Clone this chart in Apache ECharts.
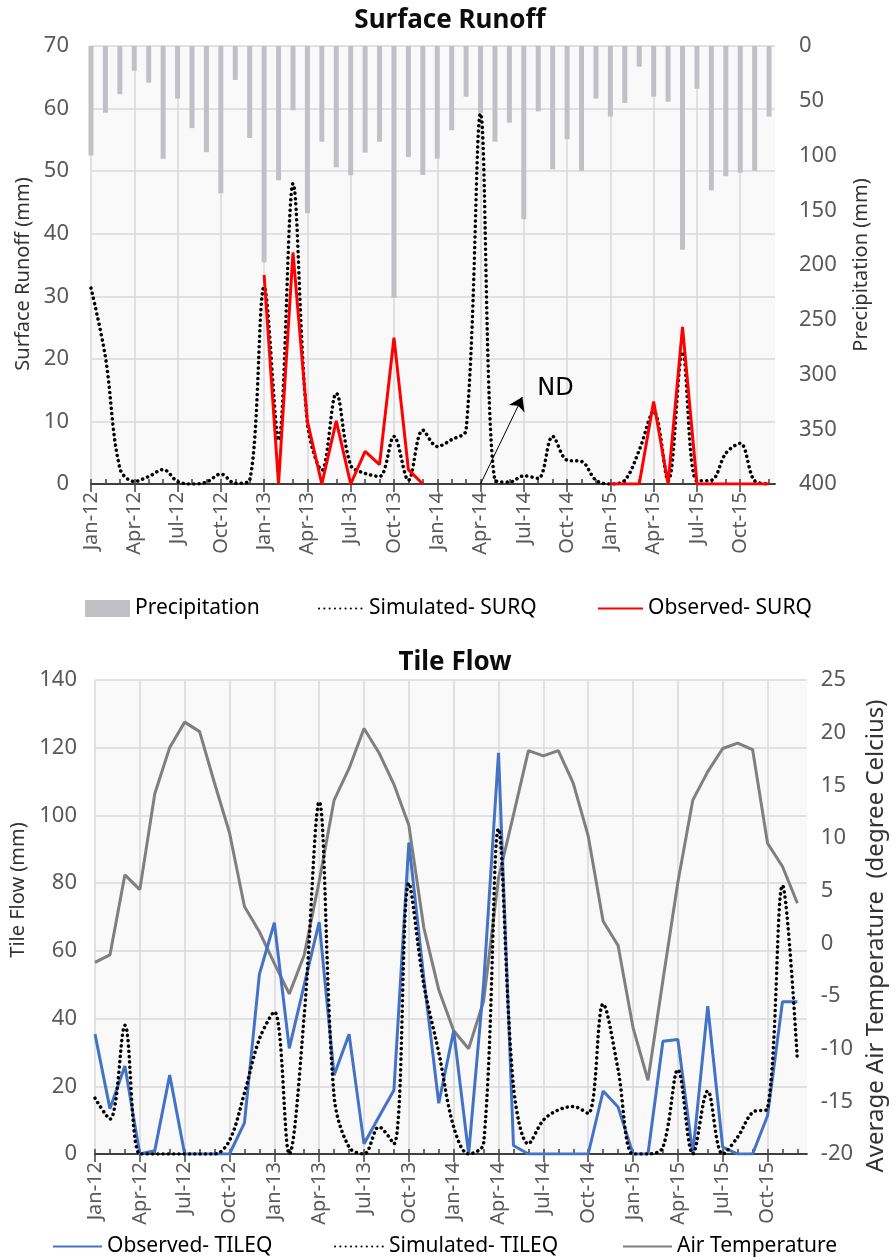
<!DOCTYPE html>
<html>
<head>
<meta charset="utf-8">
<title>Surface Runoff / Tile Flow</title>
<script src="https://cdn.jsdelivr.net/npm/echarts@6.0.0/dist/echarts.min.js"></script>
<style>
  html, body { margin: 0; padding: 0; background: #fff; }
  #chart { width: 896px; height: 1260px; }
</style>
</head>
<body>
<div id="chart"></div>
<script>
const MONTHS = [
  'Jan-12', 'Feb-12', 'Mar-12', 'Apr-12', 'May-12', 'Jun-12', 'Jul-12', 'Aug-12', 'Sep-12', 'Oct-12', 'Nov-12', 'Dec-12',
  'Jan-13', 'Feb-13', 'Mar-13', 'Apr-13', 'May-13', 'Jun-13', 'Jul-13', 'Aug-13', 'Sep-13', 'Oct-13', 'Nov-13', 'Dec-13',
  'Jan-14', 'Feb-14', 'Mar-14', 'Apr-14', 'May-14', 'Jun-14', 'Jul-14', 'Aug-14', 'Sep-14', 'Oct-14', 'Nov-14', 'Dec-14',
  'Jan-15', 'Feb-15', 'Mar-15', 'Apr-15', 'May-15', 'Jun-15', 'Jul-15', 'Aug-15', 'Sep-15', 'Oct-15', 'Nov-15', 'Dec-15'
];
// labelled months (every third one)
const LABEL_MONTHS = [0, 3, 6, 9, 12, 15, 18, 21, 24, 27, 30, 33, 36, 39, 42, 45];
const ALL_MONTHS = MONTHS.map((_, i) => i);

// Surface runoff panel
const PRECIP = [
  100, 61, 44, 22.5, 33.5, 103, 48, 75, 97, 134.5, 31, 84,
  197.6, 122.7, 58.7, 152.8, 87.4, 110.8, 118, 97.4, 87.4, 230, 101.4, 117.8,
  102.9, 77, 46.3, 61, 87.4, 70, 158.3, 59.7, 112.6, 85, 114, 48,
  64.5, 52, 18.9, 46.3, 51, 186, 39, 131.8, 119, 115.7, 114, 64.5
];
const SIM_SURQ = [
  31.3, 20.3, 2.5, 0.4, 1.2, 2.3, 0.4, 0, 0.3, 1.6, 0.1, 0.6,
  31.5, 7, 48, 9.7, 2.2, 14.5, 3.0, 1.7, 1.2, 7.6, 0.6, 8.6,
  6, 7.1, 8.6, 59.2, 0.6, 0.3, 1.3, 0.9, 7.6, 3.8, 3.6, 0.6,
  0, 0.6, 5.4, 11.6, 0.5, 21.1, 0.5, 0.6, 4.9, 6.5, 0.5, 0
];
const OBS_SURQ = [
  null, null, null, null, null, null, null, null, null, null, null, null,
  33.4, 0, 37, 10, 0, 10.1, 0, 5.2, 3.1, 23.4, 2.3, 0,
  null, null, null, null, null, null, null, null, null, null, null, null,
  0, 0, 0, 13.2, 0, 25.1, 0, 0, 0, 0, 0, 0
];
const SURQ_TICKS = [0, 10, 20, 30, 40, 50, 60, 70];
const PRECIP_TICKS = [0, 50, 100, 150, 200, 250, 300, 350, 400];
// "ND" (no data) note: arrow from Apr-14 baseline, text beside it
const ND_ARROW = [[27, 0], [29.9, 13.9]];
const ND_TEXT_AT = [32.2, 15.3];

// Tile flow panel
const OBS_TILEQ = [
  35.4, 13.4, 26, 0, 1, 23.3, 0, 0, 0, 0, 9.2, 53.1,
  68.3, 31.2, 50, 68.5, 23.3, 35.4, 3, 11, 18.8, 92, 52, 15,
  36.4, 0, 50, 118.5, 2.5, 0, 0, 0, 0, 0, 18.6, 13.9,
  0, 0, 33.3, 33.8, 0, 43.7, 2, 0, 0, 11.3, 45, 45
];
const SIM_TILEQ = [
  16.5, 10.3, 38, 0, 0, 0, 0, 0, 0, 4, 18, 34,
  42, 0, 41, 104, 17, 2, 0, 8, 3, 80, 50, 30,
  8, 0, 3, 96, 20, 3, 10, 13, 14, 12, 44.3, 24.9,
  0, 0, 2, 24.9, 0, 18.6, 0, 5, 12.3, 13.4, 79.3, 27.5
];
const AIR_TEMP = [
  -1.8, -1.1, 6.5, 5.1, 14.2, 18.6, 21.0, 20.1, 15.2, 10.5, 3.5, 1.1,
  -1.9, -4.8, -1.1, 5.9, 13.6, 16.6, 20.4, 18.1, 15.1, 11.2, 1.5, -4.4,
  -8.3, -10.0, -5.5, 6.2, 12.2, 18.3, 17.8, 18.3, 15.2, 10.2, 2.1, -0.2,
  -8.0, -13.0, -3.5, 5.8, 13.6, 16.3, 18.5, 19.0, 18.4, 9.5, 7.3, 3.8
];
const TILEQ_TICKS = [0, 20, 40, 60, 80, 100, 120, 140];
const TEMP_TICKS = [-20, -15, -10, -5, 0, 5, 10, 15, 20, 25];

const FONT = '"Noto Sans", "Liberation Sans", sans-serif';
const TICK_COLOR = '#595959';
const AXIS_COLOR = '#404040';
const GRID_COLOR = '#d9d9d9';
const DOTS = [0.1, 5.2];

function pairs(values) {
  return values.map((v, i) => [i, v]);
}

function monthAxes(gridIndex, max) {
  return [{
    type: 'value',
    gridIndex,
    position: 'bottom',
    min: 0,
    max,
    interval: 3,
    axisLine: { show: true, onZero: false, lineStyle: { color: AXIS_COLOR, width: 2 } },
    axisTick: { show: true, length: 8, customValues: LABEL_MONTHS, lineStyle: { color: AXIS_COLOR, width: 1.5 } },
    axisLabel: {
      rotate: 90,
      margin: 8,
      color: TICK_COLOR,
      fontSize: 20,
      fontFamily: FONT,
      customValues: LABEL_MONTHS,
      formatter: (v) => MONTHS[v] || ''
    },
    splitLine: { show: true, lineStyle: { color: GRID_COLOR, width: 1.5 } }
  }, {
    // one short inner tick per month
    type: 'value',
    gridIndex,
    position: 'bottom',
    min: 0,
    max,
    interval: 1,
    axisLine: { show: false, onZero: false },
    axisTick: { show: true, inside: true, length: 5, customValues: ALL_MONTHS, lineStyle: { color: AXIS_COLOR, width: 1.5 } },
    axisLabel: { show: false },
    splitLine: { show: false }
  }];
}

function valueAxis(gridIndex, ticks, opts) {
  return Object.assign({
    type: 'value',
    gridIndex,
    min: ticks[0],
    max: ticks[ticks.length - 1],
    interval: ticks[1] - ticks[0],
    axisLine: { show: false },
    axisTick: { show: false },
    axisLabel: { color: TICK_COLOR, fontSize: 22, fontFamily: FONT },
    nameLocation: 'middle',
    nameRotate: 90,
    nameTextStyle: { color: '#333', fontSize: 20, fontFamily: FONT },
    splitLine: { show: false }
  }, opts);
}

function legendItem(name, left, top, gap, extra) {
  return Object.assign({
    data: [name],
    left,
    top,
    padding: 0,
    itemWidth: 45,
    itemHeight: 17,
    itemGap: 0,
    itemTextGap: gap,
    selectedMode: false,
    // line items: hide the marker dot, keep the line sample
    itemStyle: { opacity: 0 },
    textStyle: { color: '#000', fontSize: 21, fontFamily: FONT }
  }, extra || {});
}

function buildOption() {
  const gridStyle = { show: true, backgroundColor: '#f9f9f9', borderWidth: 0 };
  return {
    animation: false,
    backgroundColor: '#fff',
    title: [
      { text: 'Surface Runoff', left: 445, top: 3, textAlign: 'center',
        textStyle: { fontSize: 26, fontWeight: 'bold', color: '#0d0d0d', fontFamily: FONT } },
      { text: 'Tile Flow', left: 450, top: 645, textAlign: 'center',
        textStyle: { fontSize: 26, fontWeight: 'bold', color: '#0d0d0d', fontFamily: FONT } }
    ],
    legend: [
      legendItem('Precipitation', 85, 598, 12, { icon: 'rect', itemStyle: { opacity: 1 } }),
      legendItem('Simulated- SURQ', 318, 598, 8),
      legendItem('Observed- SURQ', 597, 598, 12),
      legendItem('Observed- TILEQ', 52, 1236, 4, { itemWidth: 49 }),
      legendItem('Simulated- TILEQ', 334, 1236, 4, { itemWidth: 49 }),
      legendItem('Air Temperature', 622, 1236, 4, { itemWidth: 49 })
    ],
    grid: [
      Object.assign({ left: 91, top: 46, width: 684, height: 438 }, gridStyle),
      Object.assign({ left: 95, top: 680, width: 713, height: 474 }, gridStyle)
    ],
    xAxis: [].concat(monthAxes(0, 47.41), monthAxes(1, 47.63)),
    yAxis: [
      valueAxis(0, SURQ_TICKS, {
        name: 'Surface Runoff (mm)', nameGap: 58,
        nameTextStyle: { color: '#333', fontSize: 20, fontFamily: FONT, padding: [0, 18, 0, 0] },
        axisLabel: { color: TICK_COLOR, fontSize: 22, fontFamily: FONT, margin: 22 },
        splitLine: { show: true, lineStyle: { color: GRID_COLOR, width: 1.5 } }
      }),
      valueAxis(0, PRECIP_TICKS, {
        name: 'Precipitation (mm)', nameGap: 76, position: 'right', inverse: true,
        axisLabel: { color: TICK_COLOR, fontSize: 22, fontFamily: FONT, margin: 24 }
      }),
      valueAxis(1, TILEQ_TICKS, {
        name: 'Tile Flow (mm)', nameGap: 62,
        nameTextStyle: { color: '#333', fontSize: 20, fontFamily: FONT, padding: [0, 0, 0, 54] },
        axisLabel: { color: TICK_COLOR, fontSize: 22, fontFamily: FONT, margin: 18 },
        splitLine: { show: true, lineStyle: { color: GRID_COLOR, width: 1.5 } }
      }),
      valueAxis(1, TEMP_TICKS, {
        name: 'Average Air Temperature  (degree Celcius)', nameGap: 51, position: 'right',
        nameTextStyle: { color: '#333', fontSize: 24, fontFamily: FONT, padding: [0, 38, 0, 0] },
        axisLabel: { color: TICK_COLOR, fontSize: 22, fontFamily: FONT, margin: 14 }
      })
    ],
    series: [
      {
        name: 'Precipitation',
        type: 'bar',
        xAxisIndex: 0,
        yAxisIndex: 1,
        barWidth: 5,
        clip: true,
        itemStyle: { color: '#c1c0c4' },
        data: pairs(PRECIP)
      },
      {
        name: 'Simulated- SURQ',
        type: 'line',
        xAxisIndex: 0,
        yAxisIndex: 0,
        symbol: 'none',
        smooth: 0.35,
        lineStyle: { color: '#000', width: 3.5, type: DOTS, cap: 'round' },
        itemStyle: { color: '#000' },
        data: pairs(SIM_SURQ),
        markLine: {
          silent: true,
          symbol: ['none', 'arrow'],
          symbolSize: 13,
          label: { show: false },
          lineStyle: { color: '#000', width: 1, type: 'solid', cap: 'butt' },
          data: [[{ coord: ND_ARROW[0] }, { coord: ND_ARROW[1] }]]
        },
        markPoint: {
          silent: true,
          symbol: 'circle',
          symbolSize: 1,
          itemStyle: { color: 'rgba(0,0,0,0)' },
          label: { show: true, position: 'inside', formatter: 'ND', color: '#000', fontSize: 24, fontFamily: '"DejaVu Sans", sans-serif' },
          data: [{ coord: ND_TEXT_AT }]
        }
      },
      {
        name: 'Observed- SURQ',
        type: 'line',
        xAxisIndex: 0,
        yAxisIndex: 0,
        symbol: 'none',
        lineStyle: { color: '#ff0000', width: 3 },
        itemStyle: { color: '#ff0000' },
        data: pairs(OBS_SURQ)
      },
      {
        name: 'Air Temperature',
        type: 'line',
        xAxisIndex: 2,
        yAxisIndex: 3,
        symbol: 'none',
        lineStyle: { color: '#7f7f7f', width: 3 },
        itemStyle: { color: '#7f7f7f' },
        data: pairs(AIR_TEMP)
      },
      {
        name: 'Observed- TILEQ',
        type: 'line',
        xAxisIndex: 2,
        yAxisIndex: 2,
        symbol: 'none',
        lineStyle: { color: '#4472c4', width: 3 },
        itemStyle: { color: '#4472c4' },
        data: pairs(OBS_TILEQ)
      },
      {
        name: 'Simulated- TILEQ',
        type: 'line',
        xAxisIndex: 2,
        yAxisIndex: 2,
        symbol: 'none',
        smooth: 0.35,
        lineStyle: { color: '#000', width: 3.5, type: DOTS, cap: 'round' },
        itemStyle: { color: '#000' },
        data: pairs(SIM_TILEQ)
      }
    ]
  };
}

const chart = echarts.init(document.getElementById('chart'), null, { renderer: 'canvas' });
chart.setOption(buildOption());
</script>
</body>
</html>
